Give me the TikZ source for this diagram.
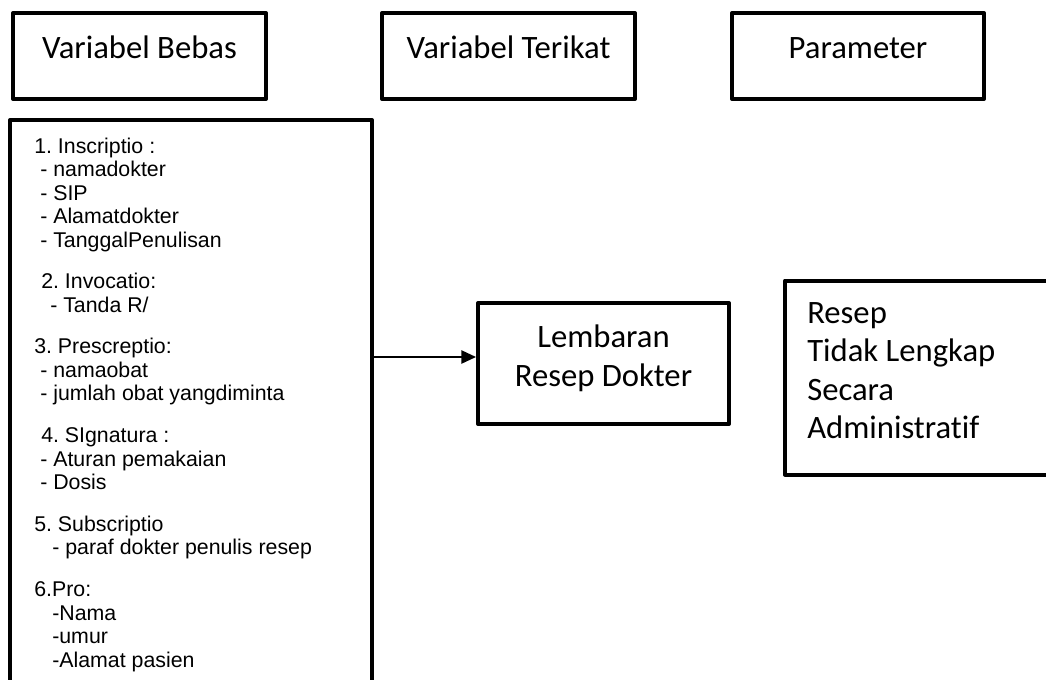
\documentclass[tikz,border=0pt]{standalone}
\usepackage{fontspec}
\setmainfont{Carlito}[Ligatures=NoCommon]
\newfontfamily\arialf{Liberation Sans}[Ligatures=NoCommon]
\usetikzlibrary{fit,arrows.meta}
\frenchspacing
\begin{document}
\begin{tikzpicture}[x=0.75pt,y=-0.75pt,
  box/.style={draw, line width=3pt, inner sep=0pt, line join=round},
  lbl/.style={font=\fontsize{24.5}{29}\selectfont, inner sep=0pt, anchor=base},
  lbll/.style={font=\fontsize{24.5}{29}\selectfont, inner sep=0pt, anchor=base west},
  item/.style={font=\arialf\fontsize{16}{19}\selectfont, inner sep=0pt, anchor=base west},
  conn/.style={line width=1.1pt, -{Triangle[length=11pt,width=10pt]}}]
\useasboundingbox (0,0) rectangle (1046,679);
\clip (0,0) rectangle (1046,679);
% header boxes
\node[box, fit={(13,13)(266,99)}] (bebas) {};
\node[box, fit={(382,13)(635,99)}] (terikat) {};
\node[box, fit={(732,13)(984,99)}] (param) {};
\node[lbl] (tbebas) at (139.5,58) {Variabel Bebas};
\node[lbl] (tterikat) at (508.5,58) {Variabel Terikat};
\node[lbl] (tparam) at (858,58) {Parameter};
% big list box (bottom cut off)
\node[box, fit={(10,120)(372,740)}] (list) {};
\node[item] (i1) at (34,153) {1. Inscriptio :};
\node[item] (i2) at (40,176.5) {- namadokter};
\node[item] (i3) at (40,200) {- SIP};
\node[item] (i4) at (40,223.5) {- Alamatdokter};
\node[item] (i5) at (40,247) {- TanggalPenulisan};
\node[item] (i6) at (41,288.7) {2. Invocatio:};
\node[item] (i7) at (50,312.2) {- Tanda R/};
\node[item] (i8) at (34,353.9) {3. Prescreptio:};
\node[item] (i9) at (40,377.4) {- namaobat};
\node[item] (i10) at (40,400.9) {- jumlah obat yangdiminta};
\node[item] (i11) at (41,442.6) {4. SIgnatura :};
\node[item] (i12) at (40,466.1) {- Aturan pemakaian};
\node[item] (i13) at (40,489.6) {- Dosis};
\node[item] (i14) at (34,531.3) {5. Subscriptio};
\node[item] (i15) at (52,554.8) {- paraf dokter penulis resep};
\node[item] (i16) at (34,596.5) {6.Pro:};
\node[item] (i17) at (52,620) {-Nama};
\node[item] (i18) at (52,643.5) {-umur};
\node[item] (i19) at (52,667) {-Alamat pasien};
% Lembaran box
\node[box, fit={(478,303)(729,424)}] (lem) {};
\node[lbl] (tlem1) at (603.5,347) {Lembaran};
\node[lbl] (tlem2) at (603.5,386) {Resep Dokter};
% Resep box (right edge cut off)
\node[box, fit={(785,280.5)(1070,474.5)}] (resep) {};
\node[lbll] (r1) at (807,323) {Resep};
\node[lbll] (r2) at (807,361.5) {Tidak Lengkap};
\node[lbll] (r3) at (807,400) {Secara};
\node[lbll] (r4) at (807,438.5) {Administratif};
% connector
\coordinate (a1) at (list.east |- 0,357);
\draw[conn] (a1) -- (a1 -| lem.west);
\end{tikzpicture}
\end{document}
